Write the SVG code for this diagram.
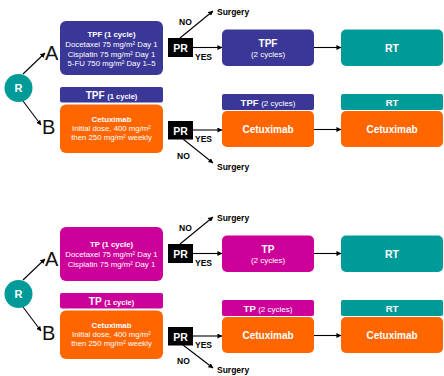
<svg xmlns="http://www.w3.org/2000/svg" width="444" height="376" viewBox="0 0 444 376">
<defs>
<marker id="ah" viewBox="0 0 6 6" refX="5.5" refY="3" markerWidth="5" markerHeight="5" orient="auto" markerUnits="userSpaceOnUse">
<path d="M0,0 L6,3 L0,6 z" fill="#000"/>
</marker>
<style>
text{font-family:"Liberation Sans",Arial,sans-serif;}
.w{fill:#fff;text-anchor:middle;}
.b{font-weight:bold;}
.k{fill:#000;font-weight:bold;font-size:8.5px;}
.ab{fill:#111;font-size:20px;}
.ln{stroke:#000;stroke-width:1.1;fill:none;marker-end:url(#ah);}
.ind{fill:#3a3797;}
.mag{fill:#cc0099;}
.org{fill:#ff6600;}
.tea{fill:#009a99;}
</style>
</defs>
<rect width="444" height="376" fill="#fff"/>

<g id="connectors">
<line class="ln" x1="23" y1="74" x2="45" y2="53"/>
<line class="ln" x1="23" y1="101" x2="41" y2="125"/>
<line class="ln" x1="180" y1="38" x2="213" y2="11"/>
<line class="ln" x1="193" y1="47.5" x2="222" y2="47.5"/>
<line class="ln" x1="183" y1="139" x2="213" y2="163"/>
<line class="ln" x1="193" y1="130" x2="222" y2="130"/>
<line class="ln" x1="314" y1="47.5" x2="341" y2="47.5"/>
<line class="ln" x1="314" y1="129.5" x2="341" y2="129.5"/>

<line class="ln" x1="23" y1="280" x2="45" y2="259"/>
<line class="ln" x1="23" y1="307" x2="41" y2="331"/>
<line class="ln" x1="180" y1="244" x2="213" y2="217"/>
<line class="ln" x1="193" y1="253.5" x2="222" y2="253.5"/>
<line class="ln" x1="183" y1="345" x2="213" y2="368"/>
<line class="ln" x1="193" y1="336" x2="222" y2="336"/>
<line class="ln" x1="314" y1="253.5" x2="341" y2="253.5"/>
<line class="ln" x1="314" y1="335.5" x2="341" y2="335.5"/>
</g>

<g id="labels">
<text class="ab" x="45" y="60">A</text>
<text class="ab" x="42" y="134">B</text>
<text class="k" x="179" y="25">NO</text>
<text class="k" x="195" y="60">YES</text>
<text class="k" x="217" y="15">Surgery</text>
<text class="k" x="195" y="142">YES</text>
<text class="k" x="177" y="159">NO</text>
<text class="k" x="217" y="170">Surgery</text>

<text class="ab" x="45" y="266">A</text>
<text class="ab" x="42" y="340">B</text>
<text class="k" x="179" y="231">NO</text>
<text class="k" x="195" y="266">YES</text>
<text class="k" x="217" y="221">Surgery</text>
<text class="k" x="195" y="348">YES</text>
<text class="k" x="177" y="364">NO</text>
<text class="k" x="217" y="373">Surgery</text>
</g>

<g id="R1">
<circle cx="18.5" cy="88" r="14" class="tea"/>
<text class="w b" x="18.5" y="92" font-size="11">R</text>
</g>
<g id="tpfA1">
<rect x="60" y="21" width="103" height="54" rx="6" class="ind"/>
<text class="w b" x="111.5" y="37" font-size="7.8">TPF (1 cycle)</text>
<text class="w" x="111.5" y="47" font-size="7.8">Docetaxel 75 mg/m² Day 1</text>
<text class="w" x="111.5" y="56.5" font-size="7.8">Cisplatin 75 mg/m² Day 1</text>
<text class="w" x="111.5" y="66" font-size="7.8">5-FU 750 mg/m² Day 1–5</text>
</g>
<g id="prA1">
<rect x="168" y="38" width="25" height="19" fill="#000"/>
<text class="w b" x="180.5" y="51.5" font-size="10.5">PR</text>
</g>
<g id="tpf2A1">
<rect x="222" y="29.5" width="92" height="36.5" rx="5" class="ind"/>
<text class="w b" x="268" y="46.5" font-size="10">TPF</text>
<text class="w" x="268" y="57" font-size="8">(2 cycles)</text>
</g>
<g id="rtA1">
<rect x="341" y="29.5" width="102" height="36.5" rx="5" class="tea"/>
<text class="w b" x="392" y="51.5" font-size="10.5">RT</text>
</g>
<g id="tpfB1">
<rect x="60" y="87" width="103" height="15.5" rx="2" class="ind"/>
<text class="w b" x="111.5" y="98.5" font-size="10">TPF <tspan font-size="7.5">(1 cycle)</tspan></text>
</g>
<g id="cetB1">
<rect x="60" y="104.5" width="103" height="48.5" rx="6" class="org"/>
<text class="w b" x="111.5" y="122" font-size="7.8">Cetuximab</text>
<text class="w" x="111.5" y="131" font-size="7.8">Initial dose, 400 mg/m²</text>
<text class="w" x="111.5" y="140" font-size="7.8">then 250 mg/m² weekly</text>
</g>
<g id="prB1">
<rect x="168" y="121" width="25" height="18.5" fill="#000"/>
<text class="w b" x="180.5" y="134.5" font-size="10.5">PR</text>
</g>
<g id="tpf2B1">
<rect x="222" y="94" width="92" height="16" rx="2" class="ind"/>
<text class="w b" x="268" y="106" font-size="9.5">TPF <tspan font-weight="normal" font-size="8">(2 cycles)</tspan></text>
</g>
<g id="cet2B1">
<rect x="222" y="111" width="92" height="36" rx="5" class="org"/>
<text class="w b" x="268" y="133" font-size="10">Cetuximab</text>
</g>
<g id="rtB1">
<rect x="341" y="94" width="102" height="16" rx="2" class="tea"/>
<text class="w b" x="392" y="106" font-size="9.5">RT</text>
</g>
<g id="cet3B1">
<rect x="341" y="111" width="102" height="36" rx="5" class="org"/>
<text class="w b" x="392" y="133" font-size="10">Cetuximab</text>
</g>

<g id="R2">
<circle cx="18.5" cy="294" r="14" class="tea"/>
<text class="w b" x="18.5" y="298" font-size="11">R</text>
</g>
<g id="tpA2">
<rect x="60" y="227" width="103" height="54" rx="6" class="mag"/>
<text class="w b" x="111.5" y="247" font-size="7.8">TP (1 cycle)</text>
<text class="w" x="111.5" y="257" font-size="7.8">Docetaxel 75 mg/m² Day 1</text>
<text class="w" x="111.5" y="266.5" font-size="7.8">Cisplatin 75 mg/m² Day 1</text>
</g>
<g id="prA2">
<rect x="168" y="244" width="25" height="19" fill="#000"/>
<text class="w b" x="180.5" y="257.5" font-size="10.5">PR</text>
</g>
<g id="tp2A2">
<rect x="222" y="235.5" width="92" height="36.5" rx="5" class="mag"/>
<text class="w b" x="268" y="252.5" font-size="10">TP</text>
<text class="w" x="268" y="263" font-size="8">(2 cycles)</text>
</g>
<g id="rtA2">
<rect x="341" y="235.5" width="102" height="36.5" rx="5" class="tea"/>
<text class="w b" x="392" y="257.5" font-size="10.5">RT</text>
</g>
<g id="tpB2">
<rect x="60" y="293" width="103" height="15.5" rx="2" class="mag"/>
<text class="w b" x="111.5" y="304.5" font-size="10">TP <tspan font-size="7.5">(1 cycle)</tspan></text>
</g>
<g id="cetB2">
<rect x="60" y="310.5" width="103" height="48.5" rx="6" class="org"/>
<text class="w b" x="111.5" y="328" font-size="7.8">Cetuximab</text>
<text class="w" x="111.5" y="337" font-size="7.8">Initial dose, 400 mg/m²</text>
<text class="w" x="111.5" y="346" font-size="7.8">then 250 mg/m² weekly</text>
</g>
<g id="prB2">
<rect x="168" y="327" width="25" height="18.5" fill="#000"/>
<text class="w b" x="180.5" y="340.5" font-size="10.5">PR</text>
</g>
<g id="tp2B2">
<rect x="222" y="300" width="92" height="16" rx="2" class="mag"/>
<text class="w b" x="268" y="312" font-size="9.5">TP <tspan font-weight="normal" font-size="8">(2 cycles)</tspan></text>
</g>
<g id="cet2B2">
<rect x="222" y="317" width="92" height="36" rx="5" class="org"/>
<text class="w b" x="268" y="339" font-size="10">Cetuximab</text>
</g>
<g id="rtB2">
<rect x="341" y="300" width="102" height="16" rx="2" class="tea"/>
<text class="w b" x="392" y="312" font-size="9.5">RT</text>
</g>
<g id="cet3B2">
<rect x="341" y="317" width="102" height="36" rx="5" class="org"/>
<text class="w b" x="392" y="339" font-size="10">Cetuximab</text>
</g>
</svg>
